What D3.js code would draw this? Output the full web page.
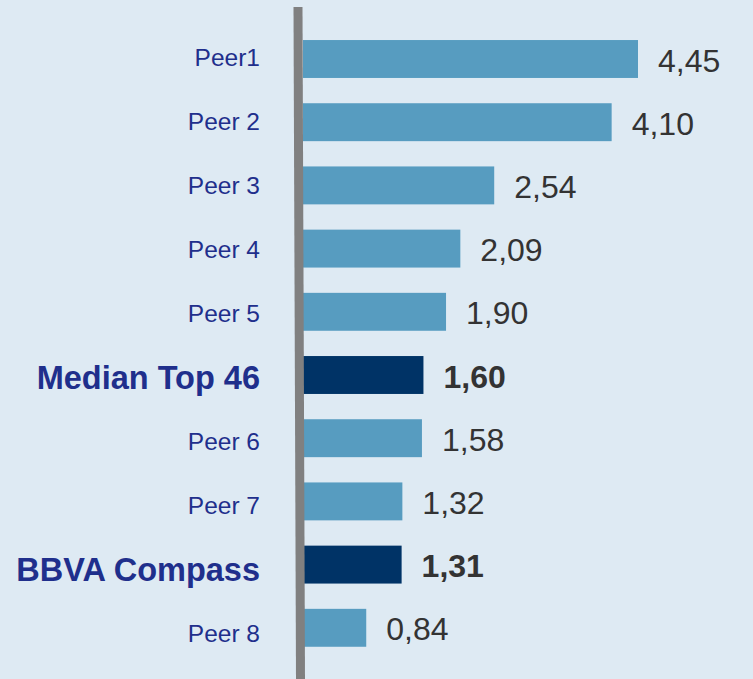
<!DOCTYPE html>
<html>
<head>
<meta charset="utf-8">
<script src="https://cdn.jsdelivr.net/npm/d3@7"></script>
<style>
  html, body { margin: 0; padding: 0; background: #deeaf3; }
  svg { display: block; font-family: "Liberation Sans", Arial, sans-serif; }
</style>
</head>
<body>
<svg id="chart"></svg>
<script>
// data
var categories = ["Peer1", "Peer 2", "Peer 3", "Peer 4", "Peer 5", "Median Top 46", "Peer 6", "Peer 7", "BBVA Compass", "Peer 8"];
var values = [4.45, 4.10, 2.54, 2.09, 1.90, 1.60, 1.58, 1.32, 1.31, 0.84];
var highlighted = ["Median Top 46", "BBVA Compass"];

var WIDTH = 753, HEIGHT = 679;

var svg = d3.select("#chart")
  .attr("width", WIDTH)
  .attr("height", HEIGHT);

svg.append("rect")
  .attr("width", WIDTH)
  .attr("height", HEIGHT)
  .attr("fill", "#deeaf3");

var rows = categories.map(function(c, i) {
  return { name: c, value: values[i], hot: highlighted.indexOf(c) >= 0 };
});

var xScale = d3.scaleLinear().domain([0, 4.45]).range([303, 638]);
var yScale = d3.scaleBand()
  .domain(categories)
  .range([27.4, 659.4])
  .paddingInner(0.4)
  .paddingOuter(0.2);
// category labels sit on a slightly wider spread than the bars
var labelY = d3.scalePoint().domain(categories).range([57, 633]);

var fmt = function(v) { return d3.format(".2f")(v).replace(".", ","); };

// bars
svg.selectAll("rect.bar")
  .data(rows)
  .enter().append("rect")
  .attr("class", "bar")
  .attr("x", xScale(0))
  .attr("y", function(d) { return yScale(d.name); })
  .attr("width", function(d) { return xScale(d.value) - xScale(0); })
  .attr("height", yScale.bandwidth())
  .attr("fill", function(d) { return d.hot ? "#003366" : "#579cc0"; });

// value labels
svg.selectAll("text.val")
  .data(rows)
  .enter().append("text")
  .attr("class", "val")
  .attr("x", function(d) { return xScale(d.value) + 20; })
  .attr("y", function(d) { return yScale(d.name) + yScale.bandwidth() / 2 + 1; })
  .attr("dy", "0.36em")
  .attr("fill", "#333333")
  .style("font-size", "32px")
  .style("font-weight", function(d) { return d.hot ? "bold" : "normal"; })
  .text(function(d) { return fmt(d.value); });

// category labels
svg.selectAll("text.cat")
  .data(rows)
  .enter().append("text")
  .attr("class", "cat")
  .attr("x", 260)
  .attr("y", function(d) { return labelY(d.name); })
  .attr("dy", "0.36em")
  .attr("text-anchor", "end")
  .attr("fill", "#1f2f8c")
  .style("font-size", function(d) { return d.hot ? "32.5px" : "24.5px"; })
  .style("font-weight", function(d) { return d.hot ? "bold" : "normal"; })
  .text(function(d) { return d.name; });

// vertical axis bar
svg.append("line")
  .attr("x1", 298).attr("y1", 7)
  .attr("x2", 300.5).attr("y2", HEIGHT)
  .attr("stroke", "#808080")
  .attr("stroke-width", 9);
</script>
</body>
</html>
